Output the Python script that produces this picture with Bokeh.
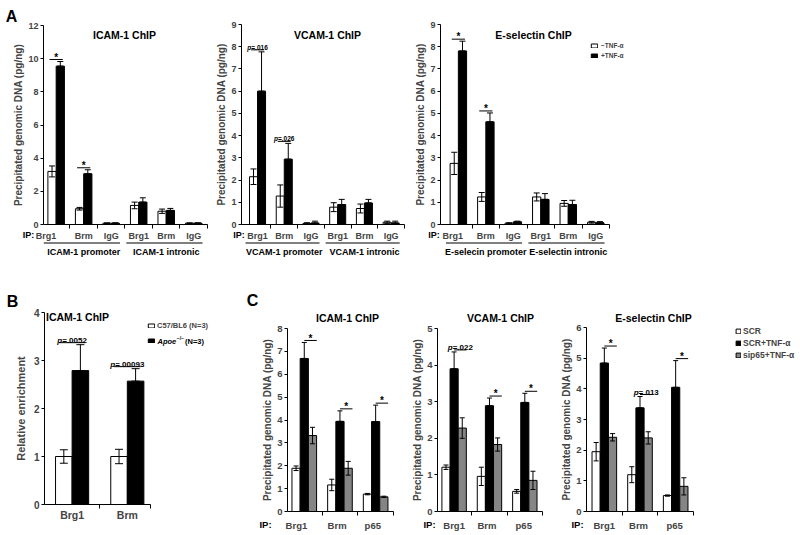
from bokeh.plotting import figure
from bokeh.models import (ColumnDataSource, Range1d, FixedTicker, Label, Whisker,
                          TeeHead, Legend, LegendItem)
from bokeh.layouts import row, column
from bokeh.embed import file_html
from bokeh.resources import INLINE

FONT = "Liberation Sans"
GREY = "#858585"

# ---------------- data ----------------
# Panel A : -TNF-a (white) / +TNF-a (black)
a_ip_labels = ["Brg1", "Brm", "IgG", "Brg1", "Brm", "IgG"]

a_icam_minus = [3.20, 0.95, 0.08, 1.15, 0.80, 0.08]
a_icam_minus_err = [0.33, 0.08, 0.02, 0.20, 0.13, 0.02]
a_icam_plus = [9.55, 3.06, 0.08, 1.35, 0.85, 0.08]
a_icam_plus_err = [0.28, 0.24, 0.02, 0.26, 0.12, 0.02]
a_icam_sig = {0: "*", 1: "*"}

a_vcam_minus = [2.15, 1.28, 0.05, 0.78, 0.72, 0.10]
a_vcam_minus_err = [0.35, 0.50, 0.03, 0.20, 0.20, 0.05]
a_vcam_plus = [6.00, 2.94, 0.07, 0.90, 0.97, 0.07]
a_vcam_plus_err = [1.77, 0.71, 0.08, 0.23, 0.16, 0.08]
a_vcam_sig = {0: "p=.016", 1: "p=.026"}

a_esel_minus = [2.75, 1.24, 0.06, 1.24, 0.95, 0.10]
a_esel_minus_err = [0.50, 0.20, 0.02, 0.18, 0.13, 0.04]
a_esel_plus = [7.81, 4.62, 0.12, 1.13, 0.90, 0.08]
a_esel_plus_err = [0.44, 0.40, 0.03, 0.26, 0.19, 0.05]
a_esel_sig = {0: "*", 1: "*"}

# Panel B : C57/BL6 (white) / Apoe-/- (black)
b_labels = ["Brg1", "Brm"]
b_c57 = [1.00, 1.00]
b_c57_err = [0.14, 0.15]
b_apoe = [2.79, 2.57]
b_apoe_err = [0.54, 0.26]
b_sig = {0: "p=.0052", 1: "p=.00093"}

# Panel C : SCR (white) / SCR+TNF-a (black) / sip65+TNF-a (grey)
c_labels = ["Brg1", "Brm", "p65"]

c_icam_scr = [1.89, 1.16, 0.76]
c_icam_scr_err = [0.10, 0.25, 0.03]
c_icam_tnf = [6.69, 3.94, 3.93]
c_icam_tnf_err = [0.70, 0.46, 0.72]
c_icam_si = [3.32, 1.89, 0.64]
c_icam_si_err = [0.36, 0.30, 0.03]
c_icam_sig = {0: "*", 1: "*", 2: "*"}

c_vcam_scr = [1.21, 0.96, 0.55]
c_vcam_scr_err = [0.06, 0.25, 0.05]
c_vcam_tnf = [3.90, 2.89, 2.98]
c_vcam_tnf_err = [0.46, 0.21, 0.25]
c_vcam_si = [2.28, 1.83, 0.85]
c_vcam_si_err = [0.28, 0.18, 0.25]
c_vcam_sig = {0: "p=.022", 1: "*", 2: "*"}

c_esel_scr = [1.95, 1.20, 0.52]
c_esel_scr_err = [0.30, 0.26, 0.02]
c_esel_tnf = [4.84, 3.38, 4.05]
c_esel_tnf_err = [0.49, 0.37, 0.87]
c_esel_si = [2.42, 2.40, 0.82]
c_esel_si_err = [0.12, 0.20, 0.28]
c_esel_sig = {0: "*", 1: "p=.013", 2: "*"}

YLAB = "Precipitated genomic DNA (pg/ng)"

# ---------------- helpers ----------------
CW = {'p': 0.611, '=': 0.584, '.': 0.278, 'A': 0.722, 'o': 0.611, 'e': 0.556}


def text_w(s, fs):
    return sum(CW.get(c, 0.556) for c in s) * fs


def make_fig(fig_left, fig_top, width, height, box, xr, yr):
    fl, fr, ft, fb = box
    sx = (xr[1] - xr[0]) / (fr - fl)
    sy = (yr[1] - yr[0]) / (fb - ft)
    x0 = xr[0] + (fig_left - fl) * sx
    x1 = xr[0] + (fig_left + width - fl) * sx
    y0 = yr[0] - (fig_top + height - fb) * sy
    y1 = yr[1] + (ft - fig_top) * sy
    p = figure(width=width, height=height, title=None,
               x_range=Range1d(x0, x1), y_range=Range1d(y0, y1),
               output_backend="svg", toolbar_location=None, tools="",
               min_border_left=0, min_border_right=0, min_border_top=0,
               min_border_bottom=0)
    p.outline_line_color = None
    p.xgrid.visible = False
    p.ygrid.visible = False
    p.background_fill_color = "white"
    p.border_fill_color = "white"
    g = dict(fl=fl, fr=fr, ft=ft, fb=fb, xr=xr, yr=yr)
    return p, g


def X(g, px):
    return g['xr'][0] + (px - g['fl']) * (g['xr'][1] - g['xr'][0]) / (g['fr'] - g['fl'])


def Y(g, py):
    return g['yr'][0] + (g['fb'] - py) * (g['yr'][1] - g['yr'][0]) / (g['fb'] - g['ft'])


def ppu(g):
    return (g['fb'] - g['ft']) / (g['yr'][1] - g['yr'][0])


def style_axes(p, g, yticks, label_pos, xlabels, xbounds, ytick_fs, xtick_fs,
               ylabel, ylabel_fs, ylabel_standoff, xlabel_standoff=2):
    yax = p.yaxis[0]
    yax.fixed_location = g['xr'][0]
    yax.bounds = (g['yr'][0], g['yr'][1])
    yax.ticker = FixedTicker(ticks=yticks, minor_ticks=[])
    yax.axis_label = ylabel
    yax.axis_label_text_font = FONT
    yax.axis_label_text_font_size = f"{ylabel_fs}px"
    yax.axis_label_text_font_style = "bold"
    yax.axis_label_standoff = ylabel_standoff
    yax.major_label_text_font = FONT
    yax.major_label_text_font_size = f"{ytick_fs}px"
    yax.major_label_text_font_style = "bold"
    yax.major_label_standoff = 2
    yax.major_tick_out = 3
    yax.major_tick_in = 0
    yax.minor_tick_line_color = None
    yax.axis_line_color = "black"
    yax.major_tick_line_color = "black"

    xax = p.xaxis[0]
    xax.fixed_location = g['yr'][0]
    xax.bounds = (g['xr'][0], g['xr'][1])
    xax.ticker = FixedTicker(ticks=label_pos, minor_ticks=xbounds)
    xax.major_label_overrides = {c: l for c, l in zip(label_pos, xlabels)}
    xax.major_tick_line_color = None
    xax.major_tick_out = 3
    xax.major_tick_in = 0
    xax.minor_tick_out = 4
    xax.minor_tick_in = 0
    xax.minor_tick_line_color = "black"
    xax.axis_line_color = "black"
    xax.major_label_standoff = xlabel_standoff
    xax.major_label_text_font = FONT
    xax.major_label_text_font_size = f"{xtick_fs}px"
    xax.major_label_text_font_style = "bold"


def label(p, x, y, text, size, style="bold", align="center", baseline="middle",
          x_offset=0):
    p.add_layout(Label(x=x, y=y, text=text, text_font=FONT,
                       text_font_size=f"{size}px", text_font_style=style,
                       text_align=align, text_baseline=baseline, text_color="black",
                       x_offset=x_offset))


def bars(p, xs, tops, errs, color, width, cap, both=True):
    src = ColumnDataSource(dict(
        x=xs, top=tops,
        upper=[t + e for t, e in zip(tops, errs)],
        lower=[(t - e) if both else t for t, e in zip(tops, errs)]))
    r = p.vbar(x='x', top='top', bottom=0, width=width, source=src,
               fill_color=color, line_color="black", line_width=1)
    p.add_layout(Whisker(source=src, base='x', upper='upper', lower='lower',
                         line_color="black", line_width=1, level="annotation",
                         upper_head=TeeHead(size=cap, line_color="black", line_width=1),
                         lower_head=TeeHead(size=cap, line_color="black", line_width=1)))
    return r


def sig_mark(p, g, xl, xr, top, text, star_fs, p_fs):
    u = ppu(g)
    yl = top + 2.0 / u
    p.segment(x0=[xl], y0=[yl], x1=[xr], y1=[yl], line_color="black", line_width=1)
    xc = (xl + xr) / 2
    if text == "*":
        label(p, xc, yl + 2.3 / u, "*", star_fs, baseline="middle")
    else:
        total = text_w(text, p_fs)
        shift = -total / 2 + text_w("p", p_fs)
        label(p, xc, yl + 2.5 / u, "p", p_fs, style="bold italic", align="right",
              baseline="alphabetic", x_offset=shift)
        label(p, xc, yl + 2.5 / u, text[1:], p_fs, style="bold", align="left",
              baseline="alphabetic", x_offset=shift)


# ---------------- panel A ----------------
def panel_a(fig_left, width, box, xr, ymax, ystep, minus, minus_err, plus,
            plus_err, sig, title, title_px, ip_px, first_shift, regions,
            letter=None, legend=False):
    p, g = make_fig(fig_left, 0, width, 260, box, xr, (0, ymax))
    centers = list(range(len(a_ip_labels)))
    label_pos = [first_shift] + centers[1:]
    style_axes(p, g, list(range(0, ymax + 1, ystep)), label_pos, a_ip_labels,
               [c + 0.5 for c in centers], 9, 9, YLAB, 10, 1)
    w = 0.3
    rw = bars(p, [c - w / 2 for c in centers], minus, minus_err, "white", w, 6, True)
    rb = bars(p, [c + w / 2 for c in centers], plus, plus_err, "black", w, 6, False)
    for i, t in sig.items():
        sig_mark(p, g, i - 0.24, i + 0.24, plus[i] + plus_err[i], t, 10, 6.5)
    label(p, X(g, title_px), Y(g, 34), title, 10.5)
    label(p, X(g, ip_px), Y(g, 234), "IP:", 9)
    for k, reg in enumerate(regions):
        c0 = 3 * k
        label(p, c0 + 1, Y(g, 251), reg, 9)
        yu = Y(g, 242.5)
        p.segment(x0=[c0 - 0.45], y0=[yu], x1=[c0 + 2.32], y1=[yu],
                  line_color="black", line_width=1)
    if letter:
        label(p, X(g, 11), Y(g, 16), letter, 16)
    if legend:
        lg = Legend(items=[LegendItem(label="\u2212TNF-\u03b1", renderers=[rw]),
                           LegendItem(label="+TNF-\u03b1", renderers=[rb])],
                    location=(590 - fig_left, 260 - 60), glyph_width=8, glyph_height=5,
                    label_standoff=3, label_height=10, spacing=0, padding=0, margin=0,
                    border_line_color=None, background_fill_alpha=0,
                    label_text_font=FONT, label_text_font_size="6.5px",
                    label_text_font_style="bold")
        p.add_layout(lg)
    return p


pA1 = panel_a(0, 215, (43, 207, 25, 224), (-0.46, 5.5), 12, 2, a_icam_minus,
              a_icam_minus_err, a_icam_plus, a_icam_plus_err, a_icam_sig,
              "ICAM-1 ChIP", 124, 28, -0.37, ["ICAM-1 promoter", "ICAM-1 intronic"],
              letter="A")
pA2 = panel_a(215, 200, (241, 404, 24, 224), (-0.6, 5.5), 9, 1, a_vcam_minus,
              a_vcam_minus_err, a_vcam_plus, a_vcam_plus_err, a_vcam_sig,
              "VCAM-1 ChIP", 327, 238.5, 0, ["VCAM-1 promoter", "VCAM-1 intronic"])
pA3 = panel_a(415, 385, (440, 609, 24, 224), (-0.65, 5.5), 9, 1, a_esel_minus,
              a_esel_minus_err, a_esel_plus, a_esel_plus_err, a_esel_sig,
              "E-selectin ChIP", 533, 433.5, -0.2,
              ["E-selecin promoter", "E-selectin intronic"], legend=True)

# ---------------- panel B ----------------
pB, gB = make_fig(0, 260, 240, 275, (44, 150, 312, 504), (-0.5, 1.42), (0, 4))
style_axes(pB, gB, [0, 1, 2, 3, 4], [0, 1], b_labels, [0.5, 1.419], 10, 10.5,
           "Relative enrichment", 11, 4, xlabel_standoff=0)
wB = 0.3
rbw = bars(pB, [c - wB / 2 for c in range(2)], b_c57, b_c57_err, "white", wB, 8, True)
rbb = bars(pB, [c + wB / 2 for c in range(2)], b_apoe, b_apoe_err, "black", wB, 8, False)
for i, t in b_sig.items():
    sig_mark(pB, gB, i - 0.24, i + 0.24, b_apoe[i] + b_apoe_err[i], t, 10, 8)
label(pB, X(gB, 77), Y(gB, 316), "ICAM-1 ChIP", 10.5)
label(pB, X(gB, 12), Y(gB, 301), "B", 16)
lgB = Legend(items=[LegendItem(label="C57/BL6 (N=3)", renderers=[rbw]),
                    LegendItem(label=" ", renderers=[rbb])],
             location=(147, 535 - 348), glyph_width=8, glyph_height=5,
             label_standoff=2, label_height=15, spacing=0, padding=0, margin=0,
             border_line_color=None, background_fill_alpha=0,
             label_text_font=FONT, label_text_font_size="7.5px",
             label_text_font_style="bold")
pB.add_layout(lgB)
label(pB, X(gB, 157), Y(gB, 340.5), "Apoe", 7.5, style="bold italic", align="left")
label(pB, X(gB, 157.5 + text_w("Apoe", 7.5)), Y(gB, 337.5), "\u2212/\u2212", 5,
      align="left")
label(pB, X(gB, 184.5), Y(gB, 340.5), "(N=3)", 7.5, align="left")


# ---------------- panel C ----------------
def panel_c(fig_left, width, box, xr, ymax, scr, scr_err, tnf, tnf_err, si, si_err,
            sig, title, title_px, ip_px, label_pos, letter=None, legend=False):
    p, g = make_fig(fig_left, 260, width, 275, box, xr, (0, ymax))
    centers = list(range(3))
    style_axes(p, g, list(range(0, ymax + 1)), label_pos, c_labels,
               [c + 0.5 for c in centers], 9.5, 9.5, YLAB, 10, 1, xlabel_standoff=4)
    w = 0.23
    r1 = bars(p, [c - w for c in centers], scr, scr_err, "white", w, 5, True)
    r2 = bars(p, centers, tnf, tnf_err, "black", w, 5, False)
    r3 = bars(p, [c + w for c in centers], si, si_err, GREY, w, 5, True)
    for i, t in sig.items():
        sig_mark(p, g, i, i + 0.35, tnf[i] + tnf_err[i], t, 10, 8)
    label(p, X(g, title_px), Y(g, 317), title, 10.5)
    label(p, X(g, ip_px), Y(g, 524), "IP:", 9.5)
    if letter:
        label(p, X(g, 252), Y(g, 300), letter, 16)
    if legend:
        lg = Legend(items=[LegendItem(label="SCR", renderers=[r1]),
                           LegendItem(label="SCR+TNF-\u03b1", renderers=[r2]),
                           LegendItem(label="sip65+TNF-\u03b1", renderers=[r3])],
                    location=(735 - fig_left, 535 - 361), glyph_width=6, glyph_height=6,
                    label_standoff=2, label_height=12, spacing=0, padding=0, margin=0,
                    border_line_color=None, background_fill_alpha=0,
                    label_text_font=FONT, label_text_font_size="8.5px",
                    label_text_font_style="bold")
        p.add_layout(lg)
    return p


pC1 = panel_c(240, 165, (287, 393, 328, 511), (-0.47, 2.5), 8, c_icam_scr, c_icam_scr_err,
              c_icam_tnf, c_icam_tnf_err, c_icam_si, c_icam_si_err, c_icam_sig,
              "ICAM-1 ChIP", 347, 265, [-0.22, 0.92, 1.92], letter="C")
pC2 = panel_c(405, 155, (437, 542, 328, 511), (-0.47, 2.5), 5, c_vcam_scr, c_vcam_scr_err,
              c_vcam_tnf, c_vcam_tnf_err, c_vcam_si, c_vcam_si_err, c_vcam_sig,
              "VCAM-1 ChIP", 500, 429, [0, 0.93, 1.97])
pC3 = panel_c(560, 240, (586, 693, 327, 511), (-0.5, 2.5), 6, c_esel_scr, c_esel_scr_err,
              c_esel_tnf, c_esel_tnf_err, c_esel_si, c_esel_si_err, c_esel_sig,
              "E-selectin ChIP", 653, 577, [0, 0.96, 1.97], legend=True)

layout = column(row(pA1, pA2, pA3), row(pB, pC1, pC2, pC3))

open("out.html", "w").write(file_html(layout, INLINE))
